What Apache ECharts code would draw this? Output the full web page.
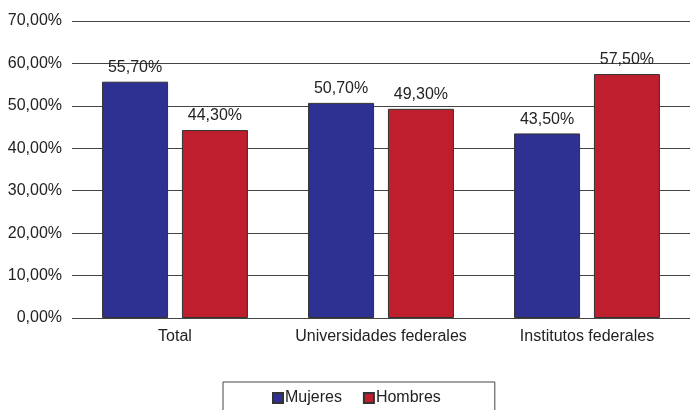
<!DOCTYPE html>
<html>
<head>
<meta charset="utf-8">
<script src="https://cdn.jsdelivr.net/npm/echarts@6/dist/echarts.min.js"></script>
<style>
  html, body { margin: 0; padding: 0; background: #fff; }
</style>
</head>
<body>
<div id="chart" style="width:690px;height:410px;"></div>
<script>
var categories = ['Total', 'Universidades federales', 'Institutos federales'];
var mujeres = [55.7, 50.7, 43.5];
var hombres = [44.3, 49.3, 57.5];
var seriesNames = ['Mujeres', 'Hombres'];

function pct(v) {
    return v.toFixed(2).replace('.', ',') + '%';
}

var myChart = echarts.init(document.getElementById('chart'));
var font = 'Liberation Sans, Arial, sans-serif';
var options = {
    animation: false,
    textStyle: { fontFamily: font },
    grid: {
        left: 72,
        top: 21,
        width: 622,
        height: 297
    },
    legend: {
        data: seriesNames,
        left: 223,
        top: 382,
        padding: [8, 54, 30, 49],
        borderColor: '#444',
        borderWidth: 1,
        borderRadius: 0,
        itemWidth: 10,
        itemHeight: 10,
        itemGap: 21,
        icon: 'rect',
        textStyle: { fontSize: 16, color: '#222', fontFamily: font, padding: [0, 0, 0, -3] }
    },
    xAxis: {
        type: 'category',
        data: categories,
        axisLine: { show: false },
        axisTick: { show: false },
        axisLabel: { interval: 0, hideOverlap: false, fontSize: 16, color: '#222', margin: 11, fontFamily: font }
    },
    yAxis: {
        type: 'value',
        min: 0,
        max: 70,
        interval: 10,
        axisLine: { show: false },
        axisTick: { show: false },
        axisLabel: {
            fontSize: 16,
            color: '#222',
            margin: 10,
            fontFamily: font,
            formatter: function (v) { return pct(v); }
        },
        splitLine: { lineStyle: { color: '#444', width: 1 } }
    },
    series: [
        {
            name: seriesNames[0],
            type: 'bar',
            data: mujeres,
            barWidth: 66,
            barGap: '21%',
            itemStyle: { color: '#2E3192', borderColor: '#333', borderWidth: 1 },
            label: {
                show: true,
                position: 'top',
                distance: 6,
                fontSize: 16,
                color: '#222',
                fontFamily: font,
                formatter: function (p) { return pct(p.value); }
            }
        },
        {
            name: seriesNames[1],
            type: 'bar',
            data: hombres,
            barWidth: 66,
            itemStyle: { color: '#BE1E2D', borderColor: '#333', borderWidth: 1 },
            label: {
                show: true,
                position: 'top',
                distance: 6,
                fontSize: 16,
                color: '#222',
                fontFamily: font,
                formatter: function (p) { return pct(p.value); }
            }
        }
    ]
};
myChart.setOption(options);
</script>
</body>
</html>
